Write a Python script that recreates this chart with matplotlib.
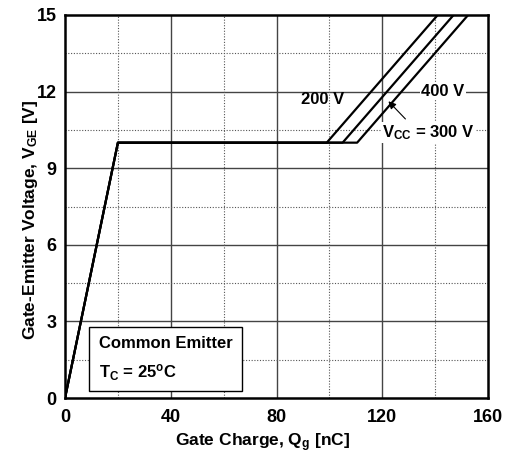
import matplotlib
matplotlib.use('Agg')
import matplotlib.pyplot as plt

plt.rcParams['font.family'] = ['Liberation Sans', 'DejaVu Sans']
plt.rcParams['font.weight'] = 'bold'
plt.rcParams['mathtext.fontset'] = 'custom'
plt.rcParams['mathtext.rm'] = 'Liberation Sans:bold'
plt.rcParams['mathtext.it'] = 'Liberation Sans:bold'
plt.rcParams['mathtext.bf'] = 'Liberation Sans:bold'

# gate charge curves, one per Vcc
vge = [0, 10, 10, 15]
qg_200 = [0, 20, 99, 141]
qg_300 = [0, 20, 105, 147]
qg_400 = [0, 20, 110.5, 152.5]

x_ticks = [0, 40, 80, 120, 160]
y_ticks = [0, 3, 6, 9, 12, 15]
x_minor = [20, 60, 100, 140]
y_minor = [1.5, 4.5, 7.5, 10.5, 13.5]

fig = plt.figure(figsize=(5.08, 4.53), dpi=100)
ax = fig.add_axes([0.128, 0.1214, 0.8326, 0.8455])

#grid first so the curves sit on top
for x in x_ticks[1:-1]:
    ax.axvline(x, color='#444444', lw=1, zorder=1)
for y in y_ticks[1:-1]:
    ax.axhline(y, color='#444444', lw=1, zorder=1)
for x in x_minor:
    ax.axvline(x, color='#555555', lw=0.8, ls=(0, (1, 1.5)), zorder=1)
for y in y_minor:
    ax.axhline(y, color='#555555', lw=0.8, ls=(0, (1, 1.5)), zorder=1)

for q in (qg_200, qg_300, qg_400):
    ax.plot(q, vge, color='black', lw=1.6, zorder=3)

ax.set_xlim(0, 160)
ax.set_ylim(0, 15)
ax.set_xticks(x_ticks)
ax.set_yticks(y_ticks)
ax.tick_params(axis='x', length=0, labelsize=13, pad=8)
ax.tick_params(axis='y', length=0, labelsize=13, pad=6)
for lab in ax.get_xticklabels() + ax.get_yticklabels():
    lab.set_fontweight('bold')
for s in ax.spines.values():
    s.set_linewidth(1.8)

ax.set_xlabel('Gate Charge, Q$_\\mathrm{g}$ [nC]', fontsize=12.5, fontweight='bold')
ax.set_ylabel('Gate-Emitter Voltage, V$_\\mathrm{GE}$ [V]', fontsize=12.5, fontweight='bold')
ax.xaxis.set_label_coords(0.466, -0.088, transform=ax.transAxes)
ax.yaxis.set_label_coords(-0.058, 0.465, transform=ax.transAxes)
ax.xaxis.label.set_va('top')

ax.text(97.5, 11.7, '200 V', fontsize=12, ha='center', va='center', zorder=4)
ax.text(143, 12.0, '400 V', fontsize=12, ha='center', va='center', zorder=4,
        bbox=dict(facecolor='white', edgecolor='none', pad=1))
ax.text(137.5, 10.4, 'V$_\\mathrm{CC}$ = 300 V', fontsize=12, ha='center', va='center', zorder=4,
        bbox=dict(facecolor='white', edgecolor='none', pad=1))
ax.annotate('', xy=(121.6, 11.7), xytext=(129.5, 10.85),
            arrowprops=dict(arrowstyle='-|>', color='black', lw=0.8, mutation_scale=11), zorder=4)

box = plt.Rectangle((0.057, 0.018), 0.361, 0.167, transform=ax.transAxes,
                    facecolor='white', edgecolor='black', lw=1, zorder=4)
ax.add_patch(box)
ax.text(0.08, 0.142, 'Common Emitter', transform=ax.transAxes, fontsize=12,
        ha='left', va='center', zorder=5)
ax.text(0.08, 0.066, 'T$_\\mathrm{C}$ = 25$^\\mathrm{o}$C', transform=ax.transAxes, fontsize=12,
        ha='left', va='center', zorder=5)

fig.savefig('out.png', dpi=100)
